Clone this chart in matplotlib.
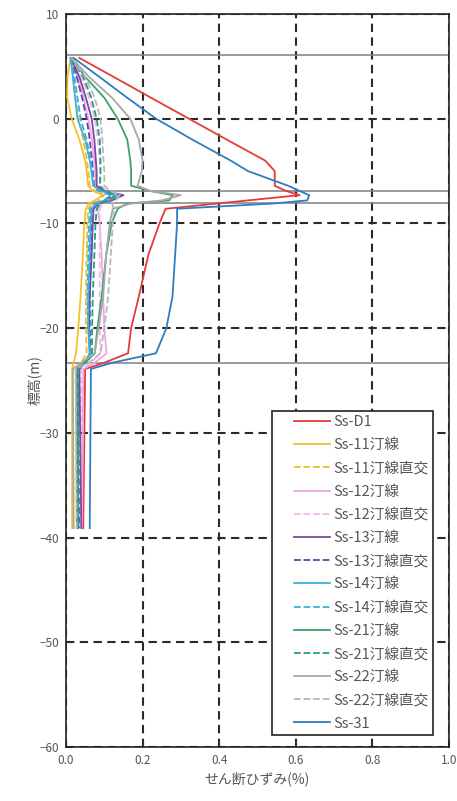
import matplotlib
matplotlib.use("Agg")
import matplotlib.pyplot as plt
from matplotlib.legend_handler import HandlerLine2D
from matplotlib.lines import Line2D

plt.rcParams['font.family'] = ['Noto Sans CJK JP', 'DejaVu Sans']

# Elevation nodes of the soil column (m)
elev = [5.8, 4.0, 2.0, 0.0, -2.0, -4.0, -5.0, -6.4, -6.9, -7.3, -7.8, -8.1,
        -8.6, -10.0, -13.0, -17.0, -20.0, -22.4, -23.3, -23.9, -39.1]

# Maximum shear strain (%) for each ground motion
ss_d1 = [0.035, 0.124, 0.222, 0.321, 0.42, 0.52, 0.545, 0.545, 0.575, 0.61, 0.475, 0.395,
         0.26, 0.244, 0.215, 0.19, 0.17, 0.162, 0.10, 0.05, 0.045]
ss_11 = [0.012, 0.004, 0.003, 0.015, 0.035, 0.05, 0.054, 0.058, 0.07, 0.097, 0.075, 0.06,
         0.052, 0.048, 0.044, 0.038, 0.032, 0.026, 0.02, 0.016, 0.016]
ss_11x = [0.012, 0.018, 0.024, 0.032, 0.045, 0.055, 0.058, 0.062, 0.075, 0.10, 0.085, 0.068,
          0.058, 0.056, 0.054, 0.052, 0.052, 0.054, 0.04, 0.026, 0.028]
ss_12 = [0.012, 0.03, 0.046, 0.058, 0.068, 0.074, 0.076, 0.078, 0.095, 0.125, 0.11, 0.09,
         0.083, 0.088, 0.093, 0.097, 0.1, 0.106, 0.075, 0.045, 0.042]
ss_12x = [0.012, 0.04, 0.06, 0.075, 0.083, 0.088, 0.09, 0.09, 0.105, 0.135, 0.12, 0.095,
          0.088, 0.088, 0.088, 0.088, 0.088, 0.09, 0.065, 0.04, 0.038]
ss_13 = [0.012, 0.035, 0.052, 0.067, 0.074, 0.078, 0.08, 0.08, 0.1, 0.15, 0.12, 0.085,
         0.072, 0.07, 0.067, 0.062, 0.06, 0.062, 0.05, 0.035, 0.04]
ss_13x = [0.012, 0.028, 0.042, 0.054, 0.062, 0.068, 0.07, 0.073, 0.09, 0.12, 0.1, 0.078,
          0.068, 0.066, 0.064, 0.062, 0.062, 0.064, 0.048, 0.032, 0.034]
ss_14 = [0.012, 0.018, 0.024, 0.03, 0.05, 0.062, 0.066, 0.071, 0.09, 0.14, 0.11, 0.08,
         0.067, 0.064, 0.062, 0.058, 0.058, 0.062, 0.05, 0.03, 0.032]
ss_14x = [0.012, 0.022, 0.03, 0.038, 0.054, 0.064, 0.068, 0.072, 0.085, 0.115, 0.1, 0.075,
          0.063, 0.06, 0.058, 0.056, 0.058, 0.064, 0.05, 0.03, 0.03]
ss_21 = [0.015, 0.05, 0.1, 0.135, 0.16, 0.168, 0.17, 0.17, 0.22, 0.278, 0.27, 0.16,
         0.135, 0.119, 0.105, 0.093, 0.082, 0.075, 0.05, 0.03, 0.03]
ss_21x = [0.015, 0.045, 0.066, 0.08, 0.088, 0.09, 0.09, 0.088, 0.1, 0.13, 0.11, 0.09,
          0.08, 0.077, 0.074, 0.07, 0.068, 0.068, 0.05, 0.03, 0.032]
ss_22 = [0.015, 0.06, 0.12, 0.168, 0.19, 0.2, 0.198, 0.187, 0.22, 0.30, 0.25, 0.17,
         0.122, 0.114, 0.105, 0.097, 0.085, 0.075, 0.04, 0.018, 0.02]
ss_22x = [0.015, 0.05, 0.075, 0.09, 0.095, 0.098, 0.1, 0.1, 0.115, 0.14, 0.13, 0.12,
          0.125, 0.122, 0.117, 0.11, 0.1, 0.09, 0.06, 0.025, 0.028]
ss_31 = [0.02, 0.087, 0.16, 0.235, 0.33, 0.43, 0.475, 0.58, 0.61, 0.635, 0.63, 0.54,
         0.29, 0.29, 0.285, 0.278, 0.262, 0.235, 0.121, 0.065, 0.062]

labels = ['Ss-D1', 'Ss-11汀線', 'Ss-11汀線直交', 'Ss-12汀線', 'Ss-12汀線直交',
          'Ss-13汀線', 'Ss-13汀線直交', 'Ss-14汀線', 'Ss-14汀線直交',
          'Ss-21汀線', 'Ss-21汀線直交', 'Ss-22汀線', 'Ss-22汀線直交', 'Ss-31']
series = [ss_d1, ss_11, ss_11x, ss_12, ss_12x, ss_13, ss_13x, ss_14, ss_14x,
          ss_21, ss_21x, ss_22, ss_22x, ss_31]
colors = ['#e53a36', '#f2c22e', '#e8c030', '#f0a6e6', '#f0b8e8', '#7a4a9e', '#5a48a8',
          '#3fb0e0', '#3ab0d8', '#3aa36a', '#1f9e80', '#a8a8a8', '#b8b8b8', '#2f7cbf']
styles = ['-', '-', '--', '-', '--', '-', '--', '-', '--', '-', '--', '-', '--', '-']

# Layer boundary elevations (m)
boundaries = [6.1, -6.95, -8.05, -23.3]

fig = plt.figure(figsize=(4.57, 8.01), dpi=100)
ax = fig.add_axes([66 / 457, 54 / 801, 383 / 457, 733 / 801])

for b in boundaries:
    ax.axhline(b, color='#808080', lw=1.1, zorder=2)

for vals, lab, c, ls in zip(series, labels, colors, styles):
    ax.plot(vals, elev, color=c, ls=ls, lw=1.3, label=lab, zorder=3)

ax.set_xlim(0, 1.0)
ax.set_ylim(-60, 10)
ax.set_xticks([0, 0.2, 0.4, 0.6, 0.8, 1.0])
ax.set_xticklabels(['0.0', '0.2', '0.4', '0.6', '0.8', '1.0'])
ax.set_yticks(range(-60, 11, 10))
ax.grid(True, color='#2a2a2a', ls=(0, (4, 2.6)), lw=1.5, zorder=1)
ax.tick_params(direction='in', length=4, color='#333333', labelcolor='#555555',
               labelsize=8.5, pad=5)
for sp in ax.spines.values():
    sp.set_color('#222222')
    sp.set_linewidth(1.2)

ax.set_xlabel('せん断ひずみ(%)', fontsize=10, color='#555555', labelpad=3)
ax.set_ylabel('標高(m)', fontsize=10, color='#555555', labelpad=-2)

# Legend line samples sit inset from the frame edge
line_handler = HandlerLine2D(xpad=1.2)
leg = ax.legend(loc='lower right', bbox_to_anchor=(0.958, 0.0164), borderaxespad=0,
                fontsize=10.5, handlelength=3.7, handletextpad=0.2, labelspacing=0.63,
                fancybox=False, framealpha=1, edgecolor='#222222', borderpad=0.3,
                handler_map={Line2D: line_handler})
leg.get_frame().set_linewidth(1.2)
for t in leg.get_texts():
    t.set_color('#555555')

fig.savefig('out.png', dpi=100)
